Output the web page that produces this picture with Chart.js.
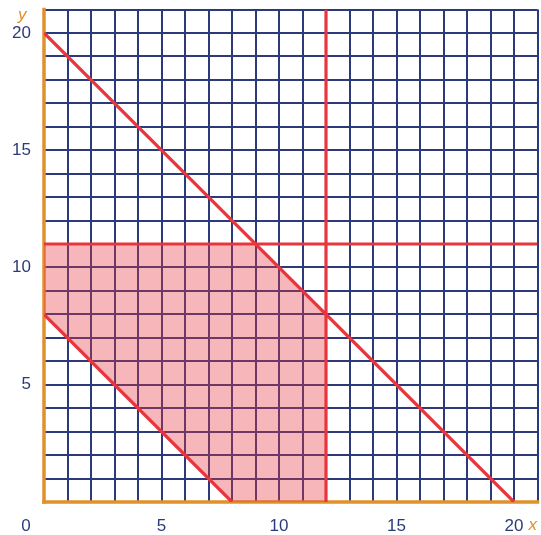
<!DOCTYPE html>
<html>
<head>
<meta charset="utf-8">
<script src="https://cdn.jsdelivr.net/npm/chart.js@4/dist/chart.umd.min.js"></script>
<style>
  html, body { margin: 0; padding: 0; background: #fff; }
  #wrap { width: 541px; height: 535px; }
</style>
</head>
<body>
<div id="wrap"><canvas id="myChart"></canvas></div>
<script>
// axis ranges and labels
const xMax = 21;
const yMax = 21;
const xTickLabels = [5, 10, 15, 20];
const yTickLabels = [5, 10, 15, 20];

// boundary lines (end points)
const lineSum20 = [{ x: 0, y: 20 }, { x: 20, y: 0 }];
const lineY11 = [{ x: 0, y: 11 }, { x: 21, y: 11 }];
const lineX12 = [{ x: 12, y: 0 }, { x: 12, y: 21 }];
const lineSum8 = [{ x: 0, y: 8 }, { x: 8, y: 0 }];

// feasible region corners
const region = [
  { x: 0, y: 8 }, { x: 0, y: 11 }, { x: 9, y: 11 },
  { x: 12, y: 8 }, { x: 12, y: 0 }, { x: 8, y: 0 }, { x: 0, y: 8 }
];

// axes
const xAxisLine = [{ x: 0, y: 0 }, { x: 21, y: 0 }];
const yAxisLine = [{ x: 0, y: 0 }, { x: 0, y: 21 }];

const navy = "#2b3a7a";
const red = "#e8363e";
const orange = "#e0912b";

const redLine = data => ({
  data: data, borderColor: red, borderWidth: 3.2, pointRadius: 0, fill: false
});

const axisLine = data => ({
  data: data, borderColor: orange, borderWidth: 3.5, pointRadius: 0,
  fill: false, borderCapStyle: "square", clip: false
});

const labelPlugin = {
  id: "labels",
  afterDatasetsDraw(chart) {
    const ctx = chart.ctx;
    const xs = chart.scales.x;
    const ys = chart.scales.y;
    ctx.save();
    ctx.fillStyle = navy;
    ctx.font = "17px 'Liberation Sans', Arial, sans-serif";
    ctx.textBaseline = "middle";
    ctx.textAlign = "right";
    yTickLabels.forEach(v => ctx.fillText(String(v), 31, ys.getPixelForValue(v)));
    ctx.textAlign = "center";
    const by = ys.getPixelForValue(0) + 24;
    xTickLabels.forEach(v => ctx.fillText(String(v), xs.getPixelForValue(v), by));
    ctx.fillText("0", xs.getPixelForValue(-0.77), by);
    ctx.fillStyle = orange;
    ctx.font = "italic 17px 'Liberation Sans', Arial, sans-serif";
    ctx.fillText("x", xs.getPixelForValue(20.8), by - 1);
    ctx.fillText("y", xs.getPixelForValue(-0.93), ys.getPixelForValue(20.75));
    ctx.restore();
  }
};

new Chart(document.getElementById("myChart"), {
  type: "line",
  data: {
    datasets: [
      {
        data: region, borderWidth: 0, pointRadius: 0,
        backgroundColor: "rgba(232, 54, 62, 0.36)", fill: "shape"
      },
      redLine(lineSum20),
      redLine(lineY11),
      redLine(lineX12),
      redLine(lineSum8),
      axisLine(xAxisLine),
      axisLine(yAxisLine)
    ]
  },
  options: {
    responsive: true,
    maintainAspectRatio: false,
    animation: false,
    events: [],
    layout: { padding: { left: 44, right: 3.5, top: 9.5, bottom: 33 } },
    plugins: { legend: { display: false }, tooltip: { enabled: false } },
    scales: {
      x: {
        type: "linear", min: 0, max: xMax,
        ticks: { stepSize: 1, display: false },
        grid: { color: navy, lineWidth: 2, drawTicks: false },
        border: { display: false },
        afterFit: s => { s.height = 0; }
      },
      y: {
        type: "linear", min: 0, max: yMax,
        ticks: { stepSize: 1, display: false },
        grid: { color: navy, lineWidth: 2, drawTicks: false },
        border: { display: false },
        afterFit: s => { s.width = 0; }
      }
    }
  },
  plugins: [labelPlugin]
});
</script>
</body>
</html>
